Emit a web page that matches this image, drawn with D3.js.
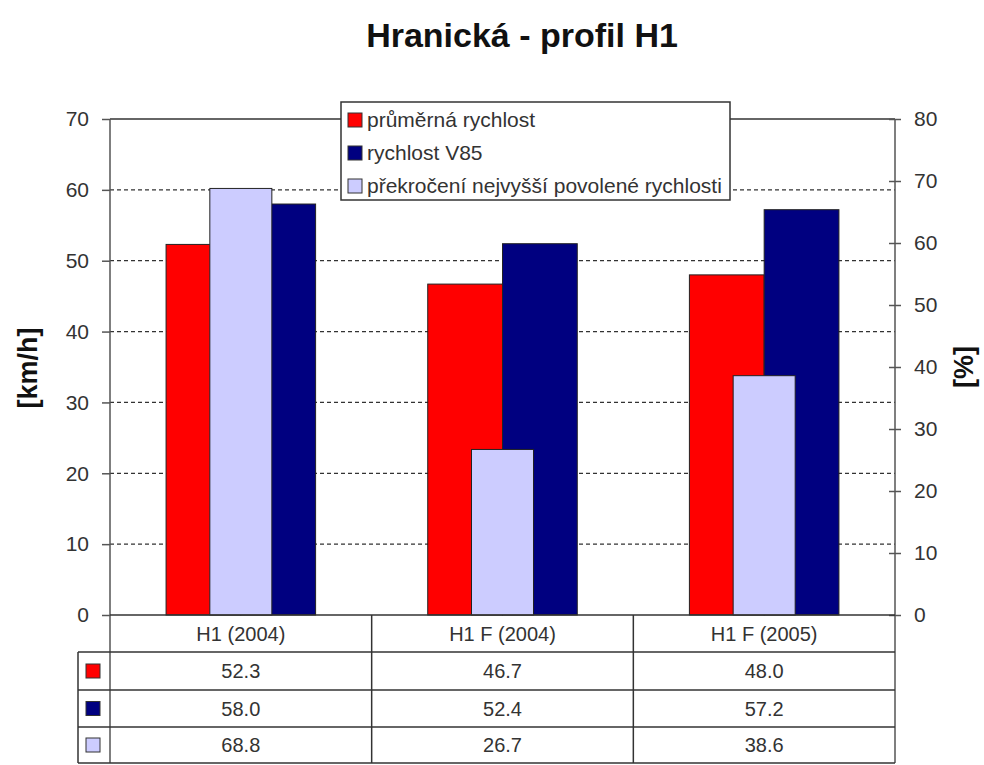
<!DOCTYPE html>
<html>
<head>
<meta charset="utf-8">
<script src="https://cdn.jsdelivr.net/npm/d3@7"></script>
<style>
  html, body { margin: 0; padding: 0; background: #fff; }
  svg { display: block; font-family: "Liberation Sans", Arial, sans-serif; }
</style>
</head>
<body>
<svg id="chart" width="984" height="765"></svg>
<script>
const title = "Hranická - profil H1";
const categories = ["H1 (2004)", "H1 F (2004)", "H1 F (2005)"];
const seriesNames = ["průměrná rychlost", "rychlost V85", "překročení nejvyšší povolené rychlosti"];
const avgSpeed = [52.3, 46.7, 48.0];
const v85Speed = [58.0, 52.4, 57.2];
const overLimit = [68.8, 26.7, 38.6];
const leftTicks = [0, 10, 20, 30, 40, 50, 60, 70];
const rightTicks = [0, 10, 20, 30, 40, 50, 60, 70, 80];
const leftTitle = "[km/h]";
const rightTitle = "[%]";
const colors = ["#ff0000", "#000080", "#ccccff"];

const svg = d3.select("#chart");
const L = 110, R = 895, T = 119, B = 615;
const textCol = "#333";
const lineCol = "#555";

const x = d3.scaleBand().domain(categories).range([L, R]).padding(0);
const yL = d3.scaleLinear().domain([0, 70]).range([B, T]);
const yR = d3.scaleLinear().domain([0, 80]).range([B, T]);
const bw = x.bandwidth();
const wMain = bw / 3.5;
const wSec = bw * 0.237;

// title
svg.append("text").attr("x", 522).attr("y", 47).attr("text-anchor", "middle")
  .attr("font-size", 34).attr("font-weight", "bold").attr("fill", "#111")
  .text(title);

// gridlines
svg.append("g").selectAll("line").data(leftTicks.filter(d => d > 0 && d < 70)).join("line")
  .attr("x1", L).attr("x2", R).attr("y1", d => yL(d)).attr("y2", d => yL(d))
  .attr("stroke", "#333").attr("stroke-width", 1.3).attr("stroke-dasharray", "4,3");

// bars
const gBars = svg.append("g");
gBars.selectAll("rect.avg").data(categories).join("rect").attr("class", "avg")
  .attr("x", d => x(d) + bw / 2 - wMain).attr("width", wMain)
  .attr("y", (d, i) => yL(avgSpeed[i])).attr("height", (d, i) => B - yL(avgSpeed[i]))
  .attr("fill", colors[0]).attr("stroke", "#222").attr("stroke-width", 1);
gBars.selectAll("rect.v85").data(categories).join("rect").attr("class", "v85")
  .attr("x", d => x(d) + bw / 2).attr("width", wMain)
  .attr("y", (d, i) => yL(v85Speed[i])).attr("height", (d, i) => B - yL(v85Speed[i]))
  .attr("fill", colors[1]).attr("stroke", "#222").attr("stroke-width", 1);
gBars.selectAll("rect.over").data(categories).join("rect").attr("class", "over")
  .attr("x", d => x(d) + bw / 2 - wSec / 2).attr("width", wSec)
  .attr("y", (d, i) => yR(overLimit[i])).attr("height", (d, i) => B - yR(overLimit[i]))
  .attr("fill", colors[2]).attr("stroke", "#222").attr("stroke-width", 1);

// frame top
svg.append("line").attr("x1", L).attr("x2", R).attr("y1", T).attr("y2", T)
  .attr("stroke", "#333").attr("stroke-width", 1.3);

// left axis
const axL = d3.axisLeft(yL).tickValues(leftTicks).tickSize(8).tickPadding(13);
const gL = svg.append("g").attr("transform", `translate(${L},0)`).call(axL);
gL.select(".domain").remove();
gL.selectAll(".tick line").attr("stroke", lineCol).attr("stroke-width", 1.5);
gL.selectAll(".tick text").attr("font-size", 21).attr("fill", textCol)
  .attr("font-family", "Liberation Sans, Arial, sans-serif");
svg.append("line").attr("x1", L).attr("x2", L).attr("y1", T).attr("y2", 763)
  .attr("stroke", lineCol).attr("stroke-width", 1.5);

// right axis
const axR = d3.axisRight(yR).tickValues(rightTicks).tickSize(6).tickPadding(13);
const gR = svg.append("g").attr("transform", `translate(${R},0)`).call(axR);
gR.select(".domain").remove();
gR.selectAll(".tick line").attr("x1", -6).attr("stroke", lineCol).attr("stroke-width", 1.5);
gR.selectAll(".tick text").attr("font-size", 21).attr("fill", textCol)
  .attr("font-family", "Liberation Sans, Arial, sans-serif");
svg.append("line").attr("x1", R).attr("x2", R).attr("y1", T).attr("y2", 763)
  .attr("stroke", lineCol).attr("stroke-width", 1.5);

// axis titles
svg.append("text").attr("transform", "translate(37,368) rotate(-90)")
  .attr("text-anchor", "middle").attr("font-size", 27).attr("font-weight", "bold")
  .attr("fill", "#111").text(leftTitle);
svg.append("text").attr("transform", "translate(973,367) rotate(-90)")
  .attr("text-anchor", "middle").attr("font-size", 27).attr("font-weight", "bold")
  .attr("fill", "#111").text(rightTitle);

// data table
const rowEdges = [615, 652, 690, 727, 763];
const keyLeft = 78;
const tbl = svg.append("g");
tbl.append("line").attr("x1", L).attr("x2", R).attr("y1", B).attr("y2", B)
  .attr("stroke", "#333").attr("stroke-width", 1.5);
tbl.selectAll("line.h").data(rowEdges.slice(1)).join("line").attr("class", "h")
  .attr("x1", keyLeft).attr("x2", R).attr("y1", d => d).attr("y2", d => d)
  .attr("stroke", "#333").attr("stroke-width", 1.5);
tbl.append("line").attr("x1", keyLeft).attr("x2", keyLeft).attr("y1", rowEdges[1]).attr("y2", 763)
  .attr("stroke", "#333").attr("stroke-width", 1.5);
tbl.selectAll("line.v").data(categories.slice(1)).join("line").attr("class", "v")
  .attr("x1", d => x(d)).attr("x2", d => x(d)).attr("y1", B).attr("y2", 763)
  .attr("stroke", "#333").attr("stroke-width", 1.5);
tbl.selectAll("text.cat").data(categories).join("text").attr("class", "cat")
  .attr("x", d => x(d) + bw / 2).attr("y", (rowEdges[0] + rowEdges[1]) / 2 + 7)
  .attr("text-anchor", "middle").attr("font-size", 20).attr("fill", textCol).text(d => d);
const rows = [avgSpeed, v85Speed, overLimit];
rows.forEach((vals, r) => {
  const cy = (rowEdges[r + 1] + rowEdges[r + 2]) / 2;
  tbl.append("rect").attr("x", 86).attr("y", cy - 7).attr("width", 14).attr("height", 14)
    .attr("fill", colors[r]).attr("stroke", "#333").attr("stroke-width", 1);
  tbl.selectAll(null).data(categories).join("text")
    .attr("x", d => x(d) + bw / 2).attr("y", cy + 7)
    .attr("text-anchor", "middle").attr("font-size", 20).attr("fill", textCol)
    .text((d, i) => vals[i].toFixed(1));
});

// legend
const lg = svg.append("g");
lg.append("rect").attr("x", 341).attr("y", 102).attr("width", 389).attr("height", 98)
  .attr("fill", "#fff").attr("stroke", "#333").attr("stroke-width", 1.5);
seriesNames.forEach((name, i) => {
  const cy = 120 + i * 33;
  lg.append("rect").attr("x", 348).attr("y", cy - 7).attr("width", 14).attr("height", 14)
    .attr("fill", colors[i]).attr("stroke", "#333").attr("stroke-width", 1);
  lg.append("text").attr("x", 367).attr("y", cy + 7).attr("font-size", 21)
    .attr("fill", textCol).text(name);
});
</script>
</body>
</html>
